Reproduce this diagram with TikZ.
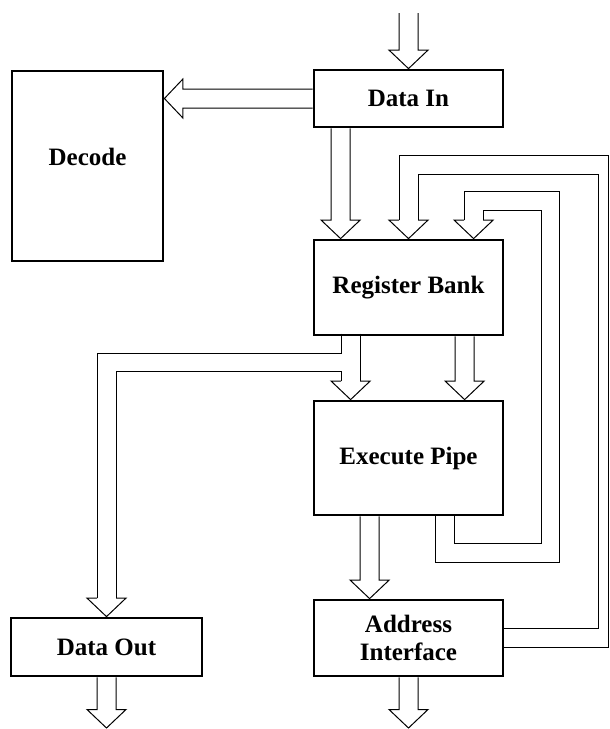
\documentclass[tikz,border=0pt]{standalone}
\usepackage{fontspec}
\setmainfont{Liberation Serif}
\usetikzlibrary{calc}

\tikzset{
  blk/.style={draw, line width=2.8pt, inner sep=0pt, align=center,
              font=\fontsize{25}{28}\selectfont\bfseries},
  lbl/.style={inner sep=0pt, font=\fontsize{25}{28}\selectfont\bfseries},
  wire/.style={line width=1pt, line join=miter},
}

% hollow bus arrow pointing down: shaft starts at the height of #1, tip at #2
\newcommand\hollowdown[2]{%
  \draw[wire] let \p1=(#1), \p2=(#2) in
    (\x2-9.5pt,\y1) -- (\x2-9.5pt,\y2+18.5pt) -- (\x2-19.5pt,\y2+18.5pt) -- (\p2)
    -- (\x2+19.5pt,\y2+18.5pt) -- (\x2+9.5pt,\y2+18.5pt) -- (\x2+9.5pt,\y1);}
% hollow bus arrow pointing left: shaft starts at #1, tip at #2
\newcommand\hollowleft[2]{%
  \draw[wire] let \p1=(#1), \p2=(#2) in
    (\x1,\y2+9.5pt) -- (\x2+18.5pt,\y2+9.5pt) -- (\x2+18.5pt,\y2+19.5pt) -- (\p2)
    -- (\x2+18.5pt,\y2-19.5pt) -- (\x2+18.5pt,\y2-9.5pt) -- (\x1,\y2-9.5pt);}
% head only of a downward bus arrow with its tip at #1
\newcommand\headdown[1]{%
  \draw[wire] let \p1=(#1) in
    (\x1-9.5pt,\y1+18.5pt) -- (\x1-19.5pt,\y1+18.5pt) -- (\p1)
    -- (\x1+19.5pt,\y1+18.5pt) -- (\x1+9.5pt,\y1+18.5pt);}

\begin{document}
\begin{tikzpicture}[x=1pt, y=-1pt]
\useasboundingbox (0,0) rectangle (610,729);

% blocks
\node[blk, minimum width=189pt, minimum height=57pt] (datain) at (408.5,98.5) {Data In};
\node[blk, minimum width=151pt, minimum height=190pt] (decode) at (87.5,166) {};
\node[lbl] (decodelbl) at ($(decode.center)+(0,-9)$) {Decode};
\node[blk, minimum width=189pt, minimum height=95pt] (regbank) at (408.5,287.5) {Register Bank};
\node[blk, minimum width=189pt, minimum height=114pt] (exec) at (408.5,458) {Execute Pipe};
\node[blk, minimum width=189pt, minimum height=76pt] (addr) at (408.5,638) {Address\\Interface};
\node[blk, minimum width=191pt, minimum height=58pt] (dataout) at (106.5,647) {Data Out};

% arrow tips and free ends
\coordinate (topEdge) at (0,13);
\coordinate (bottomEdge) at (0,728);
\coordinate (inTop) at (datain.north |- topEdge);
\coordinate (tRegA) at ($(regbank.north west)+(28,0)$);
\coordinate (tRegB) at (regbank.north);
\coordinate (tRegC) at ($(regbank.north west)+(161,0)$);
\coordinate (tExA) at ($(exec.north west)+(38,0)$);
\coordinate (tExB) at ($(exec.north west)+(152,0)$);
\coordinate (tAddr) at ($(addr.north west)+(57,0)$);
\coordinate (addrOut) at (addr.south |- bottomEdge);
\coordinate (dataOutEnd) at (dataout.south |- bottomEdge);

% straight buses
\hollowdown{inTop}{datain.north}
\hollowleft{datain.west}{decode.east |- datain.west}
\hollowdown{$(datain.south west)+(28,0)$}{tRegA}
\hollowdown{$(regbank.south west)+(152,0)$}{tExB}
\hollowdown{$(exec.south west)+(57,0)$}{tAddr}
\hollowdown{addr.south}{addrOut}
\hollowdown{dataout.south}{dataOutEnd}

% register bank to execute pipe, with a branch to data out
\draw[wire] ($(tExA)+(-9.5,-66)$) |- (97,353) -- ($(dataout.north)+(-9.5,-18.5)$);
\draw[wire] ($(dataout.north)+(9.5,-18.5)$) |- ($(tExA)+(-9.5,-28)$) -- ($(tExA)+(-9.5,-18.5)$);
\draw[wire] ($(tExA)+(9.5,-66)$) -- ($(tExA)+(9.5,-18.5)$);
\headdown{tExA}
\headdown{dataout.north}

% feedback from the address interface into the register bank
\draw[wire] ($(addr.east)+(0,9)$) -| (608,155) -| ($(tRegB)+(-9.5,-18.5)$);
\draw[wire] ($(addr.east)+(0,-10)$) -| (598,174) -| ($(tRegB)+(9.5,-18.5)$);
\headdown{tRegB}

% feedback from the execute pipe into the register bank
\draw[wire] ($(exec.south west)+(123,0)$) |- (559,562) |- ($(tRegC)+(-9.5,-47)$) -- ($(tRegC)+(-9.5,-18.5)$);
\draw[wire] ($(exec.south west)+(142,0)$) |- (541,543) |- ($(tRegC)+(9.5,-28)$) -- ($(tRegC)+(9.5,-18.5)$);
\headdown{tRegC}
\end{tikzpicture}
\end{document}
